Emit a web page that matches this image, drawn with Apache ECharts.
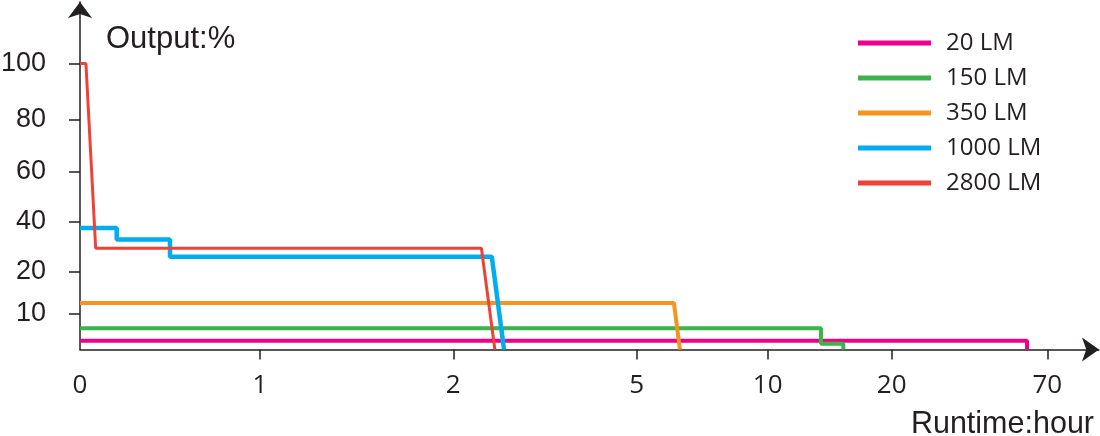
<!DOCTYPE html>
<html><head><meta charset="utf-8">
<script src="https://cdn.jsdelivr.net/npm/echarts@6/dist/echarts.min.js"></script>
<style>html,body{margin:0;padding:0;background:#fff}#c{width:1100px;height:436px}</style>
</head><body><div id="c"></div>
<script>
// ---- data (runtime in hours, output in %) ----
const seriesNames = ['20 LM', '150 LM', '350 LM', '1000 LM', '2800 LM'];
const lm20   = [[0, 2.5], [63.5, 2.5], [63.5, 0]];
const lm150  = [[0, 6], [14.3, 6], [14.3, 1.6], [16.1, 1.6], [16.1, 0]];
const lm350  = [[0, 12.6], [6.42, 12.6], [6.65, 0]];
const lm1000 = [[0, 37.6], [0.204, 37.6], [0.204, 33], [0.5, 33], [0.5, 26.1], [2.63, 26.1], [2.83, 0]];
const lm2800 = [[0, 100], [0.033, 100], [0.087, 29.5], [2.46, 29.5], [2.68, 0]];
const xTickValues = [0, 1, 2, 5, 10, 20, 70];
const xTickLabels = ['0', '1', '2', '5', '10', '20', '70'];
const yTickValues = [0, 10, 20, 40, 60, 80, 100];
const yTickLabels = ['', '10', '20', '40', '60', '80', '100'];

// ---- non-uniform axis scales: position of each tick along the axis ----
const xTickPos = [0, 180, 373.3, 556.7, 687.7, 811.7, 967.3];
const yTickPos = [0, 35.5, 77.5, 127.5, 177.5, 230, 286];
const xMax = 1019, yMax = 347.5;

function piece(v, vals, pos) {
  for (let i = 1; i < vals.length; i++) {
    if (v <= vals[i]) return pos[i - 1] + (v - vals[i - 1]) / (vals[i] - vals[i - 1]) * (pos[i] - pos[i - 1]);
  }
  const n = vals.length - 1;
  return pos[n] + (v - vals[n]) / (vals[n] - vals[n - 1]) * (pos[n] - pos[n - 1]);
}
const toPos = d => d.map(p => [piece(p[0], xTickValues, xTickPos), piece(p[1], yTickValues, yTickPos)]);
function labelFor(v, pos, labels) {
  let best = 0;
  for (let i = 1; i < pos.length; i++) if (Math.abs(pos[i] - v) < Math.abs(pos[best] - v)) best = i;
  return labels[best];
}

const colors = ['#ec008c', '#39b54a', '#f7941d', '#00aeef', '#ef4136'];
const widths = [4, 4, 4, 4.5, 3];
const datasets = [lm20, lm150, lm350, lm1000, lm2800];
const ink = '#231f20';

const chart = echarts.init(document.getElementById('c'), null, {renderer: 'canvas'});
chart.setOption({
  animation: false,
  grid: {left: 80, right: 1, top: 2, bottom: 86.5, outerBoundsMode: 'none', containLabel: false},
  xAxis: {
    type: 'value', min: 0, max: xMax,
    splitLine: {show: false},
    axisLine: {show: true, symbol: ['none', 'arrow'], symbolSize: [18, 17], lineStyle: {color: ink, width: 1.5}},
    axisTick: {show: true, inside: false, length: 10, customValues: xTickPos.slice(1), lineStyle: {color: ink, width: 1.5}},
    axisLabel: {show: true, customValues: xTickPos, margin: 23, color: ink, fontFamily: 'Open Sans', fontSize: 26,
      formatter: v => labelFor(v, xTickPos, xTickLabels)}
  },
  yAxis: {
    type: 'value', min: 0, max: yMax,
    splitLine: {show: false},
    axisLine: {show: true, symbol: ['none', 'arrow'], symbolSize: [18, 16], lineStyle: {color: ink, width: 1.5}},
    axisTick: {show: true, inside: false, length: 11, customValues: yTickPos.slice(1), lineStyle: {color: ink, width: 1.5}},
    axisLabel: {show: true, customValues: yTickPos.slice(1), margin: 34, color: ink, fontFamily: 'Liberation Sans', fontSize: 27,
      formatter: v => labelFor(v, yTickPos, yTickLabels)}
  },
  legend: {
    orient: 'vertical', left: 853, top: 25.5, itemWidth: 73, itemHeight: 5, itemGap: 10, icon: 'rect',
    data: seriesNames,
    textStyle: {color: ink, fontFamily: 'Open Sans', fontSize: 24, lineHeight: 25, padding: [0, 0, 0, 10]}
  },
  graphic: [
    {type: 'text', x: 106, y: 39, style: {text: 'Output:%', fill: ink, font: '31px "Liberation Sans"', verticalAlign: 'middle'}},
    {type: 'text', x: 1094, y: 425, style: {text: 'Runtime:hour', fill: ink, font: '30.5px "Liberation Sans"', align: 'right', verticalAlign: 'middle'}}
  ],
  series: datasets.map((d, i) => ({
    name: seriesNames[i], type: 'line', data: toPos(d), showSymbol: false, symbol: 'none',
    color: colors[i], lineStyle: {color: colors[i], width: widths[i]}, itemStyle: {color: colors[i]}
  }))
});
</script></body></html>
